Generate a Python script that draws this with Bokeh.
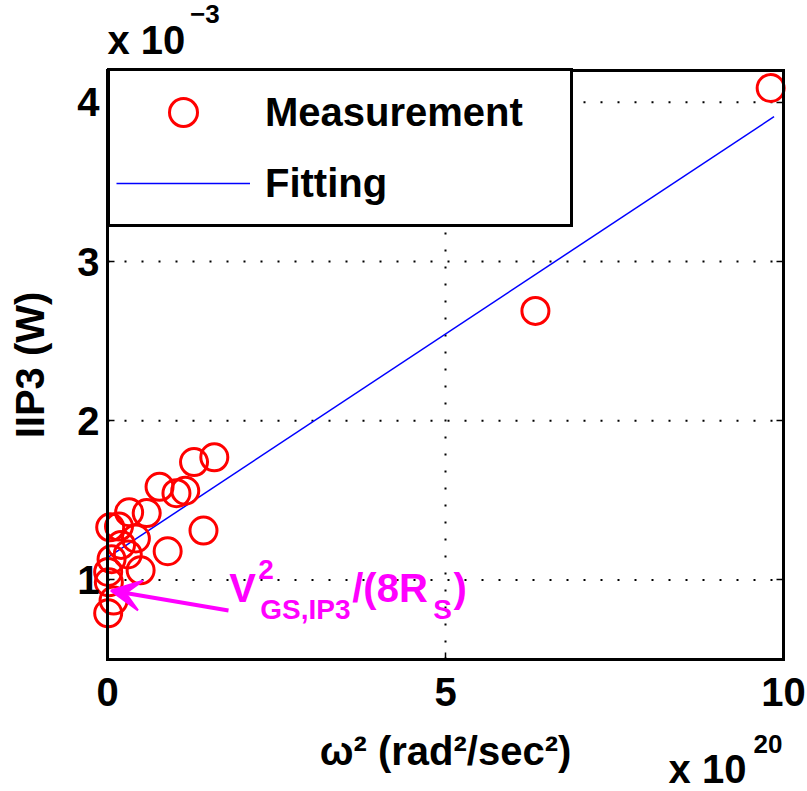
from bokeh.plotting import figure
from bokeh.models import (Legend, LegendItem, Label, Arrow, VeeHead, FixedTicker,
                          LinearAxis)
from bokeh.embed import file_html
from bokeh.resources import INLINE

# ---- data (x in units of 1e20 rad^2/sec^2, y in units of 1e-3 W) ----
omega_sq = [9.81, 6.33, 1.58, 1.28, 0.77, 1.02, 1.15, 0.32, 0.58, 0.04, 0.17,
            1.42, 0.42, 0.20, 0.89, 0.30, 0.06, 0.49, 0.01, 0.02, 0.09, 0.01]
iip3 = [4.09, 2.69, 1.77, 1.74, 1.585, 1.545, 1.56, 1.425, 1.42, 1.33, 1.335,
        1.31, 1.26, 1.22, 1.18, 1.16, 1.13, 1.06, 1.05, 0.985, 0.87, 0.79]
fit_x = [0.0, 9.86]
fit_y = [1.14, 3.91]
x_ticks = [0, 5, 10]
y_ticks = [1, 2, 3, 4]
X_LIM = (0, 10)
Y_LIM = (0.5, 4.2)

FONT = "Liberation Sans"
MAG = "#FF00FF"

# the frame covers the whole canvas; the plot box is drawn by fixed-location axes
W, H = 807, 791
BOX_L, BOX_R, BOX_T, BOX_B = 107, 783, 70, 659
sx = (BOX_R - BOX_L) / (X_LIM[1] - X_LIM[0])
sy = (BOX_B - BOX_T) / (Y_LIM[1] - Y_LIM[0])
xr = (X_LIM[0] - BOX_L / sx, X_LIM[1] + (W - BOX_R) / sx)
yr = (Y_LIM[0] - (H - BOX_B) / sy, Y_LIM[1] + BOX_T / sy)

p = figure(width=W, height=H, x_range=xr, y_range=yr,
           output_backend="svg", toolbar_location=None,
           min_border=0, min_border_left=0, min_border_right=0,
           min_border_top=0, min_border_bottom=0,
           background_fill_color="white", border_fill_color="white")
p.outline_line_color = None
p.grid.visible = False

def style_axis(ax, labels=True):
    ax.axis_line_width = 3
    ax.axis_line_color = "black"
    ax.axis_line_cap = "square"
    ax.major_tick_in = 7
    ax.major_tick_out = 0
    ax.major_tick_line_width = 1.5
    ax.major_tick_line_color = "black"
    ax.minor_tick_line_color = None
    ax.major_label_text_font = FONT
    ax.major_label_text_font_style = "bold"
    ax.major_label_text_font_size = "40px"
    ax.major_label_text_color = "black" if labels else None
    ax.axis_label_text_font = FONT
    ax.axis_label_text_font_style = "bold"
    ax.axis_label_text_font_size = "40px"
    ax.axis_label_text_color = "black"

xa = p.xaxis[0]
ya = p.yaxis[0]
style_axis(xa)
style_axis(ya)
xa.fixed_location = Y_LIM[0]
ya.fixed_location = X_LIM[0]
xa.bounds = X_LIM
ya.bounds = Y_LIM
xa.ticker = FixedTicker(ticks=x_ticks)
ya.ticker = FixedTicker(ticks=y_ticks)
xa.axis_label = "ω² (rad²/sec²)"
xa.major_label_standoff = 18
xa.axis_label_standoff = 20
ya.axis_label = "IIP3 (W)"
ya.major_label_standoff = 8
ya.axis_label_standoff = 22

top_ax = LinearAxis(fixed_location=Y_LIM[1], bounds=X_LIM,
                    ticker=FixedTicker(ticks=x_ticks))
right_ax = LinearAxis(fixed_location=X_LIM[1], bounds=Y_LIM,
                      ticker=FixedTicker(ticks=y_ticks))
style_axis(top_ax, labels=False)
style_axis(right_ax, labels=False)
p.add_layout(top_ax, "above")
p.add_layout(right_ax, "right")

# dotted grid lines inside the box
gx = [t for t in x_ticks if X_LIM[0] < t < X_LIM[1]]
gy = [t for t in y_ticks if Y_LIM[0] < t < Y_LIM[1]]
p.segment(x0=gx, y0=[Y_LIM[0]] * len(gx), x1=gx, y1=[Y_LIM[1]] * len(gx),
          line_color="black", line_width=2, line_dash="2 15")
p.segment(x0=[X_LIM[0]] * len(gy), y0=gy, x1=[X_LIM[1]] * len(gy), y1=gy,
          line_color="black", line_width=2, line_dash="2 15")

fit = p.line(fit_x, fit_y, line_color="blue", line_width=1.5)
meas = p.scatter(omega_sq, iip3, marker="circle", size=27, fill_color=None,
                 line_color="red", line_width=3)

legend = Legend(items=[LegendItem(label="Measurement", renderers=[meas]),
                       LegendItem(label="Fitting", renderers=[fit])],
                location=(BOX_L, H - 227), margin=0, padding=6, spacing=1,
                glyph_width=134, glyph_height=70, label_height=70,
                label_width=299, label_standoff=15,
                label_text_font=FONT, label_text_font_style="bold",
                label_text_font_size="40px", label_text_color="black",
                border_line_color="black", border_line_width=3,
                border_line_alpha=1.0,
                background_fill_color="white", background_fill_alpha=1.0)
p.add_layout(legend)

# annotation arrow and formula
p.add_layout(Arrow(end=VeeHead(size=30, fill_color=MAG, line_color=MAG, line_width=2),
                   x_start=1.79, y_start=0.808, x_end=0.05, y_end=0.933,
                   line_color=MAG, line_width=4))

def lab(x, y, text, size, color="black"):
    p.add_layout(Label(x=x, y=y, text=text, text_font=FONT, text_font_style="bold",
                       text_font_size=size, text_color=color,
                       text_baseline="alphabetic", text_align="left"))

lab(1.80, 0.948, "V", "40px", MAG)
lab(2.23, 1.067, "2", "28px", MAG)
lab(2.26, 0.816, "GS,IP3", "28px", MAG)
lab(3.62, 0.948, "/(8R", "40px", MAG)
lab(4.82, 0.816, "S", "28px", MAG)
lab(5.12, 0.948, ")", "40px", MAG)

# exponent multipliers of the axes
lab(0.0, 4.390, "x 10", "40px")
lab(1.22, 4.554, "−3", "26px")
lab(8.30, -0.189, "x 10", "40px")
lab(9.556, -0.032, "20", "26px")

open("out.html", "w").write(file_html(p, INLINE))
